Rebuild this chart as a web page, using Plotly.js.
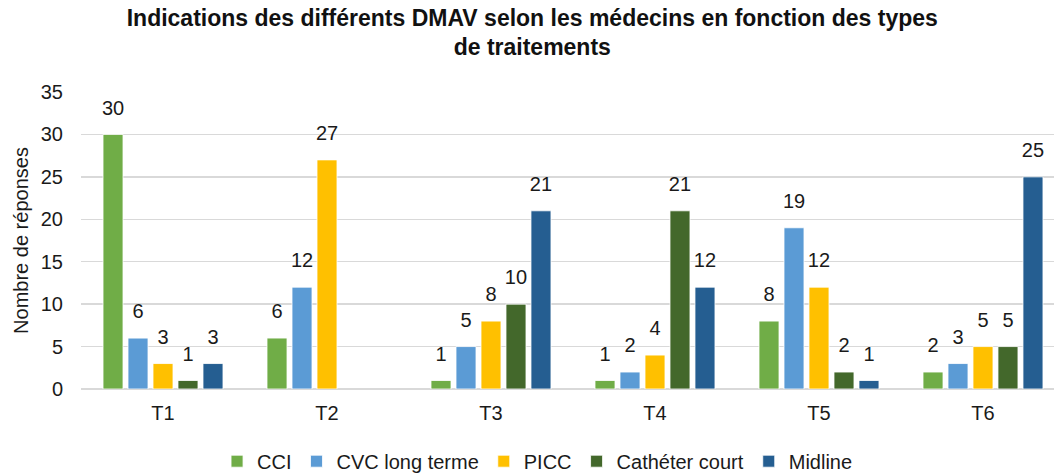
<!DOCTYPE html>
<html><head><meta charset="utf-8">
<script src="https://cdn.plot.ly/plotly-3.0.1.min.js"></script>
<style>html,body{margin:0;padding:0;background:#fff}#chart{width:1054px;height:474px}</style>
</head><body><div id="chart"></div>
<script>
const categories = ['T1','T2','T3','T4','T5','T6'];
const seriesNames = ['CCI','CVC long terme','PICC','Cathéter court','Midline'];
const cci = [30, 6, 1, 1, 8, 2];
const cvc = [6, 12, 5, 2, 19, 3];
const picc = [3, 27, 8, 4, 12, 5];
const catheterCourt = [1, null, 10, 21, 2, 5];
const midline = [3, null, 21, 12, 1, 25];
const colors = ['#70AD47', '#5B9BD5', '#FFC000', '#43682B', '#255E91'];

const FONT = 'Liberation Sans, Arial, sans-serif';
const allSeries = [cci, cvc, picc, catheterCourt, midline];
const bars = allSeries.map((vals, i) => ({
  type: 'bar', name: seriesNames[i], x: categories, y: vals,
  marker: {color: colors[i], line: {color: '#ffffff', width: 0.8}},
  hoverinfo: 'x+y+name'
}));
const labels = allSeries.map((vals, i) => ({
  type: 'scatter', mode: 'markers+text', x: categories, y: vals,
  text: vals.map(v => v == null ? '' : String(v)),
  textposition: 'top center', cliponaxis: false, showlegend: false,
  marker: {size: 22, opacity: 0, color: colors[i]},
  textfont: {family: FONT, size: 20, color: '#1a1a1a'},
  hoverinfo: 'skip'
}));

const layout = {
  width: 1054, height: 474,
  margin: {l: 81, r: 0, t: 92, b: 85},
  paper_bgcolor: '#fff', plot_bgcolor: '#fff',
  font: {family: FONT, size: 20, color: '#1a1a1a'},
  title: {text: 'Indications des différents DMAV selon les médecins en fonction des types<br>de traitements',
    font: {family: FONT, size: 23, color: '#111111', weight: 'bold'},
    x: 0.505, xref: 'container', xanchor: 'center', y: 0.946, yref: 'container', yanchor: 'top'},
  barmode: 'group', bargap: 0.238, bargroupgap: 0.2,
  scattermode: 'group', scattergap: 0.238,
  xaxis: {range: [-0.5, 5.433], showgrid: false, zeroline: false, showline: false,
    ticks: '', tickfont: {size: 20}, ticklabelstandoff: 10, fixedrange: true},
  yaxis: {range: [0, 35], dtick: 5, showgrid: true, gridcolor: '#D9D9D9', gridwidth: 1.5,
    zeroline: true, zerolinecolor: '#D9D9D9', zerolinewidth: 1.5, showline: false, ticks: '',
    tickfont: {size: 20}, ticklabelstandoff: 17,
    title: {text: 'Nombre de réponses', font: {size: 20}, standoff: 6}},
  showlegend: true,
  legend: {orientation: 'h', xref: 'container', x: 0.51, xanchor: 'center',
    yref: 'container', y: 0.027, yanchor: 'middle', font: {size: 20}, itemwidth: 30,
    traceorder: 'normal'}
};
Plotly.newPlot('chart', bars.concat(labels), layout, {displayModeBar: false, staticPlot: true});
</script></body></html>
